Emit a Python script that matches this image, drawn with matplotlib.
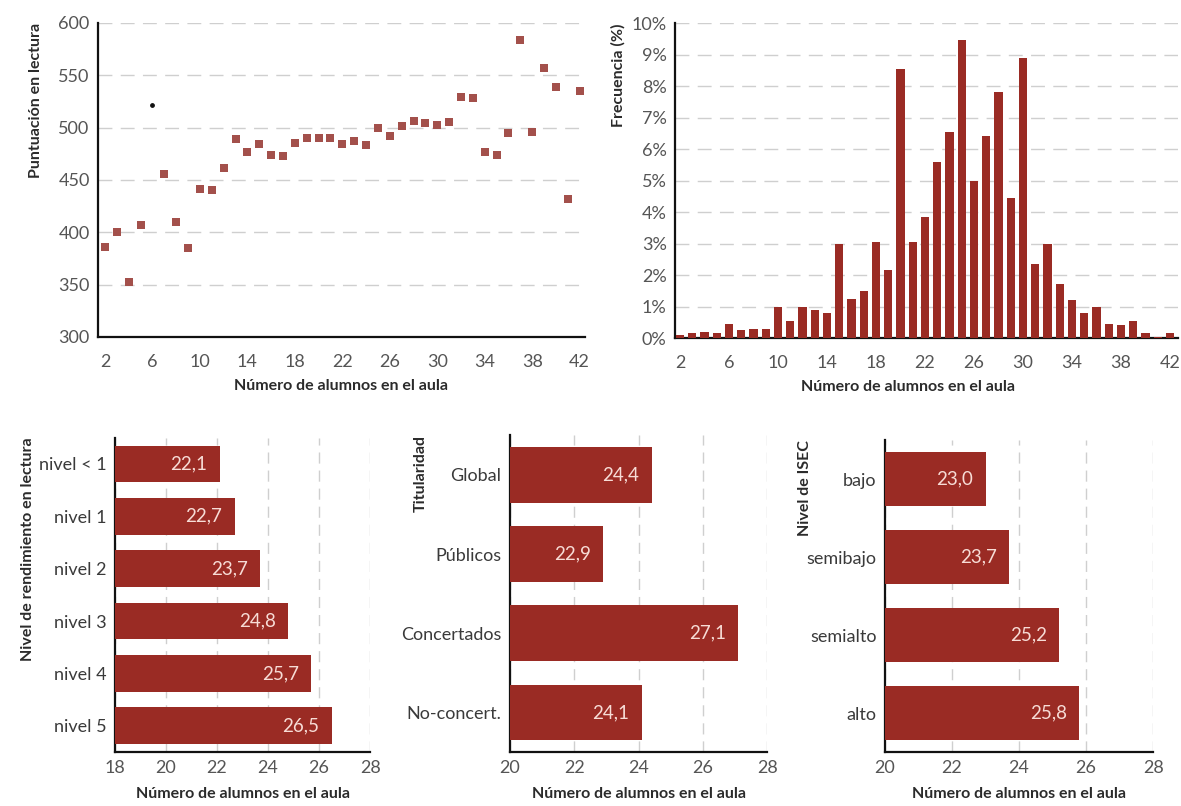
import numpy as np
import matplotlib
matplotlib.use('Agg')
import matplotlib.pyplot as plt
from matplotlib.ticker import FuncFormatter

plt.rcParams['font.family'] = ['Lato', 'DejaVu Sans']

# top left: reading score by class size
class_size = list(range(2, 43))
scores = [386, 400, 353, 407, np.nan, 456, 410, 385, 441, 440, 461, 489, 477, 484,
          474, 473, 485, 490, 490, 490, 484, 487, 483, 500, 492, 502, 506, 504,
          503, 505, 529, 528, 477, 474, 495, 584, 496, 557, 539, 432, 535]
stray_x = [6]
stray_y = [522]

# top right: frequency (%) by class size
freq = [0.1, 0.15, 0.2, 0.15, 0.45, 0.25, 0.3, 0.3, 1.0, 0.55, 1.0, 0.9, 0.8,
        3.0, 1.25, 1.5, 3.05, 2.15, 8.55, 3.05, 3.85, 5.6, 6.55, 9.45, 5.0,
        6.4, 7.8, 4.45, 8.9, 2.35, 3.0, 1.7, 1.2, 0.8, 1.0, 0.45, 0.4, 0.55,
        0.15, 0.03, 0.15]

# bottom panels
levels = ['nivel < 1', 'nivel 1', 'nivel 2', 'nivel 3', 'nivel 4', 'nivel 5']
levels_val = [22.1, 22.7, 23.7, 24.8, 25.7, 26.5]
owners = ['Global', 'Públicos', 'Concertados', 'No-concert.']
owners_val = [24.4, 22.9, 27.1, 24.1]
isec = ['bajo', 'semibajo', 'semialto', 'alto']
isec_val = [23.0, 23.7, 25.2, 25.8]

BAR = '#9a2b24'
DOT = '#a3504b'
TICK = '#555555'
LAB = '#2b2b2b'
GRID = '#cfcfcf'
xlab = 'Número de alumnos en el aula'


def style(ax):
    for s in ['top', 'right']:
        ax.spines[s].set_visible(False)
    for s in ['left', 'bottom']:
        ax.spines[s].set_linewidth(1.6)
        ax.spines[s].set_color('#111111')
    ax.tick_params(length=0, labelsize=13, labelcolor=TICK, pad=6)
    ax.set_axisbelow(True)


fig = plt.figure(figsize=(11.81, 8.06), dpi=100)

# scatter
ax1 = fig.add_axes([0.083, 0.5819, 0.412, 0.3896])
style(ax1)
ax1.tick_params(axis='x', pad=12)
ax1.scatter(class_size, scores, marker='s', s=30, color=DOT, linewidths=0, zorder=3)
ax1.scatter(stray_x, stray_y, marker='o', s=6, color='#111111', zorder=3)
ax1.set_xlim(1.41, 42.42)
ax1.set_ylim(300, 600)
ax1.set_xticks(range(2, 43, 4))
ax1.set_yticks(range(300, 601, 50))
ax1.yaxis.grid(True, color=GRID, linestyle=(0, (10, 6)), linewidth=1)
ax1.set_xlabel(xlab, fontsize=11.5, fontweight='bold', color=LAB, labelpad=7)
ax1.set_ylabel('Puntuación en lectura', fontsize=11.5, fontweight='bold',
               color=LAB, loc='top')
ax1.yaxis.set_label_coords(-0.113, 1)

# histogram
ax2 = fig.add_axes([0.5715, 0.5806, 0.426, 0.3908])
style(ax2)
ax2.tick_params(axis='x', pad=12)
ax2.bar(class_size, freq, width=0.68, color=BAR, zorder=3)
ax2.set_xlim(1.59, 42.65)
ax2.set_ylim(0, 10)
ax2.set_xticks(range(2, 43, 4))
ax2.set_yticks(range(0, 11))
ax2.yaxis.set_major_formatter(FuncFormatter(lambda v, p: f'{v:.0f}%'))
ax2.yaxis.grid(True, color=GRID, linestyle=(0, (10, 6)), linewidth=1)
ax2.set_xlabel(xlab, fontsize=11.5, fontweight='bold', color=LAB)
ax2.xaxis.set_label_coords(0.463, -0.133)
ax2.set_ylabel('Frecuencia (%)', fontsize=11.5, fontweight='bold',
               color=LAB, loc='top')
ax2.yaxis.set_label_coords(-0.099, 1)


def hbars(rect, cats, vals, x0, ylabel, label_x):
    ax = fig.add_axes(rect)
    style(ax)
    y = np.arange(len(cats))
    ax.barh(y, np.array(vals) - x0, left=x0, height=0.7, color=BAR, zorder=3)
    for yi, v in zip(y, vals):
        ax.annotate(f'{v:.1f}'.replace('.', ','), xy=(v, yi), xytext=(-9, 0),
                    textcoords='offset points', ha='right', va='center',
                    fontsize=13.5, color='#f7dcd6', zorder=4)
    ax.set_yticks(y)
    ax.set_yticklabels(cats, color='#3a3a3a')
    ax.set_ylim(len(cats) - 0.5, -0.5)
    ax.set_xlim(x0, 28)
    ax.set_xticks(range(x0, 29, 2))
    ax.xaxis.grid(True, color=GRID, linestyle=(0, (8, 5)), linewidth=1)
    ax.set_xlabel(xlab, fontsize=11.5, fontweight='bold', color=LAB, labelpad=8)
    ax.set_ylabel(ylabel, fontsize=11.5, fontweight='bold', color=LAB, loc='top')
    ax.yaxis.set_label_coords(label_x, 1)
    return ax


hbars([0.0974, 0.067, 0.216, 0.39], levels, levels_val, 18,
      'Nivel de rendimiento en lectura', -0.314)
hbars([0.4318, 0.067, 0.218, 0.393], owners, owners_val, 20, 'Titularidad', -0.32)
hbars([0.7494, 0.067, 0.227, 0.387], isec, isec_val, 20, 'Nivel de ISEC', -0.272)

plt.savefig('out.png', dpi=100)
